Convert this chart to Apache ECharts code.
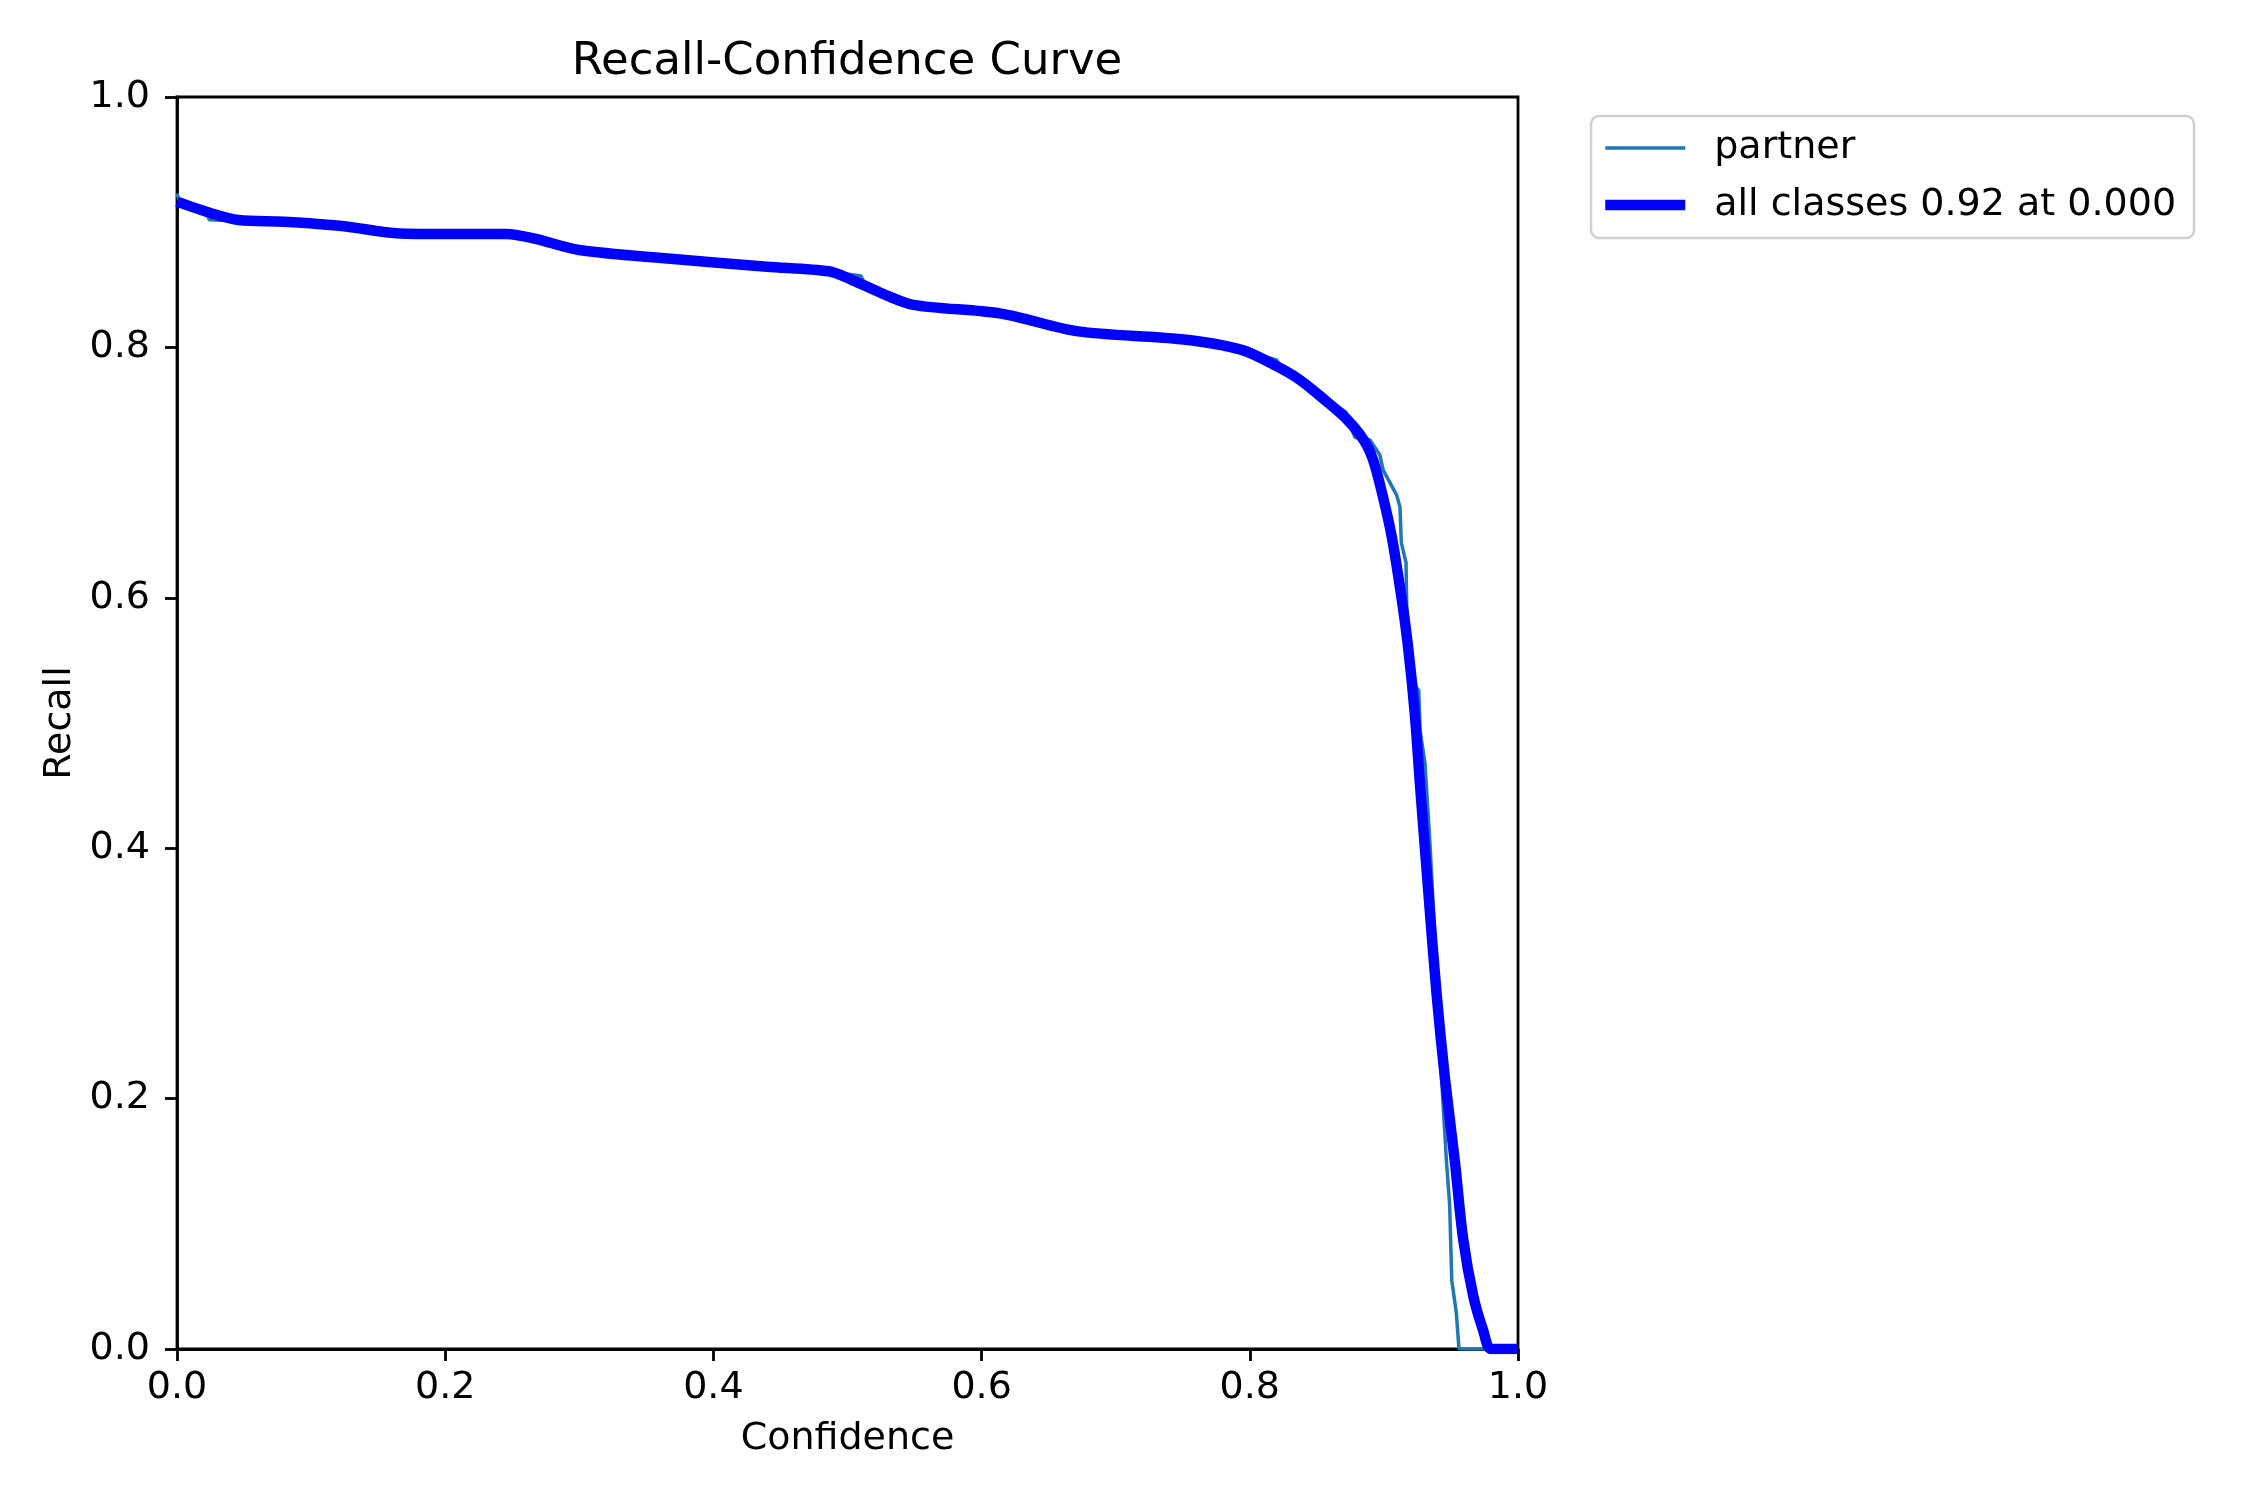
<!DOCTYPE html>
<html>
<head>
<meta charset="utf-8">
<title>Recall-Confidence Curve</title>
<script src="https://cdn.jsdelivr.net/npm/echarts@6/dist/echarts.min.js"></script>
<style>
    html, body { margin: 0; padding: 0; background: #ffffff; }
    #chart { width: 2250px; height: 1500px; }
</style>
</head>
<body>
<div id="chart"></div>
<script>
// values
const allConf = [0, 0.026, 0.046, 0.08, 0.123, 0.166, 0.195, 0.246, 0.266, 0.30, 0.366, 0.44, 0.486,
    0.503, 0.526, 0.549, 0.6145, 0.672, 0.749, 0.794, 0.82, 0.8374, 0.856, 0.872, 0.885, 0.892, 0.899,
    0.906, 0.913, 0.918, 0.923, 0.9269, 0.933, 0.9393, 0.9455, 0.953, 0.959, 0.9667, 0.974, 0.980, 1.0];
const allRecall = [0.9164, 0.907, 0.9018, 0.9004, 0.897, 0.891, 0.8906, 0.8906, 0.887, 0.8778, 0.871, 0.8645, 0.8608,
    0.854, 0.843, 0.834, 0.827, 0.8128, 0.8065, 0.798, 0.785, 0.774, 0.758, 0.743, 0.726, 0.71, 0.682,
    0.648, 0.601, 0.561, 0.508, 0.451, 0.367, 0.2835, 0.2165, 0.149, 0.0887, 0.042, 0.015, 0, 0];

const partnerConf = [0, 0.002, 0.022, 0.024, 0.046, 0.08, 0.123, 0.166, 0.246, 0.262, 0.268, 0.30, 0.366, 0.44,
    0.486, 0.51, 0.512, 0.53, 0.532, 0.55, 0.6145, 0.672, 0.749, 0.794, 0.82, 0.822, 0.838, 0.842, 0.856,
    0.872, 0.874, 0.8785, 0.8896, 0.897, 0.8995, 0.9095, 0.912, 0.913, 0.9165, 0.917, 0.9185, 0.921, 0.924,
    0.926, 0.927, 0.9306, 0.934, 0.938, 0.943, 0.9467, 0.949, 0.9506, 0.954, 0.956, 1.0];
const partnerRecall = [0.923, 0.916, 0.908, 0.902, 0.901, 0.9004, 0.897, 0.891, 0.8906, 0.889, 0.887, 0.8778, 0.871, 0.8645,
    0.8608, 0.857, 0.853, 0.841, 0.837, 0.834, 0.827, 0.8128, 0.8065, 0.798, 0.79, 0.786, 0.774, 0.77, 0.76,
    0.748, 0.74, 0.728, 0.726, 0.714, 0.702, 0.682, 0.6725, 0.644, 0.628, 0.593, 0.575, 0.545, 0.529,
    0.526, 0.494, 0.468, 0.41, 0.33, 0.2165, 0.149, 0.116, 0.055, 0.029, 0, 0];

const seriesNames = ['partner', 'all classes 0.92 at 0.000'];
const axisTicks = [0, 0.2, 0.4, 0.6, 0.8, 1.0];

const FONT = 'DejaVu Sans';

function pairs(xs, ys) {
    let out = [];
    for (let i = 0; i < xs.length; i++) {
        out.push([xs[i], ys[i]]);
    }
    return out;
}

let myChart = echarts.init(document.getElementById('chart'), null, {renderer: 'canvas'});

let axisCommon = {
    type: 'value',
    min: axisTicks[0],
    max: axisTicks[axisTicks.length - 1],
    interval: axisTicks[1] - axisTicks[0],
    nameLocation: 'middle',
    nameTextStyle: { fontFamily: FONT, fontSize: 38, color: '#000' },
    axisLine: { show: true, lineStyle: { color: '#000', width: 2.8 } },
    axisTick: { show: true, inside: false, length: 12, lineStyle: { color: '#000', width: 2.8 } },
    splitLine: { show: false },
};

let option = {
    backgroundColor: '#ffffff',
    animation: false,
    title: {
        text: 'Recall-Confidence Curve',
        left: 842,
        top: 35,
        textAlign: 'center',
        textStyle: { fontFamily: FONT, fontSize: 45, fontWeight: 'normal', color: '#000' }
    },
    grid: {
        left: 177,
        right: 732,
        top: 97,
        bottom: 151,
        show: true,
        borderColor: '#000',
        borderWidth: 2.8,
        backgroundColor: 'transparent'
    },
    legend: {
        orient: 'vertical',
        left: 1591,
        top: 116,
        padding: [11, 18, 12, 9],
        itemWidth: 80,
        itemHeight: 20,
        itemGap: 15,
        backgroundColor: '#ffffff',
        borderColor: '#d0d0d0',
        borderWidth: 2.5,
        borderRadius: 8,
        itemStyle: { opacity: 0 },
        textStyle: {
            fontFamily: FONT,
            fontSize: 38,
            color: '#000',
            lineHeight: 42,
            padding: [0, 0, 0, 24]
        },
        data: [
            { name: seriesNames[0], lineStyle: { color: '#1f77b4', width: 3.5, opacity: 1 } },
            { name: seriesNames[1], lineStyle: { color: '#0000ff', width: 10.5, opacity: 1 } }
        ]
    },
    xAxis: Object.assign({}, axisCommon, {
        name: 'Confidence',
        nameGap: 71,
        axisLabel: {
            margin: 20,
            fontFamily: FONT,
            fontSize: 38,
            color: '#000',
            formatter: (v) => v.toFixed(1)
        }
    }),
    yAxis: Object.assign({}, axisCommon, {
        name: 'Recall',
        nameGap: 94,
        axisLabel: {
            margin: 27,
            fontFamily: FONT,
            fontSize: 38,
            color: '#000',
            formatter: (v) => v.toFixed(1)
        }
    }),
    series: [
        {
            name: seriesNames[0],
            type: 'line',
            data: pairs(partnerConf, partnerRecall),
            showSymbol: false,
            symbol: 'none',
            clip: true,
            lineStyle: { color: '#1f77b4', width: 3.5 },
            itemStyle: { color: '#1f77b4' },
            z: 2
        },
        {
            name: seriesNames[1],
            type: 'line',
            data: pairs(allConf, allRecall),
            showSymbol: false,
            symbol: 'none',
            smooth: 0.3,
            clip: true,
            lineStyle: { color: '#0000ff', width: 10.5, join: 'round' },
            itemStyle: { color: '#0000ff' },
            z: 3
        }
    ]
};

myChart.setOption(option);
</script>
</body>
</html>
